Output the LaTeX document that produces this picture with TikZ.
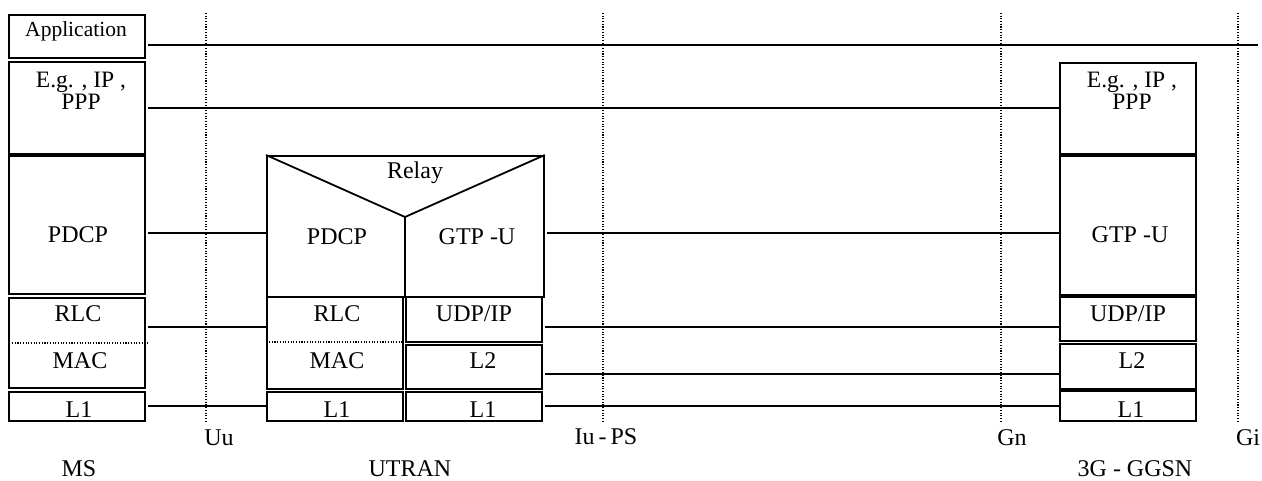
\documentclass[tikz,border=0pt]{standalone}
\usepackage{fontspec}
\setmainfont{Liberation Serif}
\usepackage{tikz}
\usetikzlibrary{calc}
\tikzstyle{layer}  = [rectangle, draw=black, line width=1.8pt, inner sep=0pt, anchor=north west, minimum width=136pt]
\tikzstyle{txt}    = [inner sep=0pt, anchor=base, font=\fontsize{24}{17}\selectfont]
\tikzstyle{txtsm}  = [inner sep=0pt, anchor=base, font=\fontsize{21.5}{17}\selectfont]
\tikzstyle{txttop} = [inner sep=0pt, anchor=north, align=center, font=\fontsize{23.5}{17}\selectfont]
\tikzstyle{link}   = [line width=1.4pt, shorten <=2pt]
\tikzstyle{iface}  = [line width=1.1pt, dash pattern=on 1.1pt off 1.6pt]

\begin{document}
\begin{tikzpicture}[x=1pt, y=-1pt]
      \useasboundingbox (0,0) rectangle (1262,481);

      % MS stack
      \node (appMS)  [layer, minimum height=43pt]  at (8,14)  {};
      \node (ipMS)   [layer, minimum height=92pt]  at (8,61)  {};
      \node (pdcpMS) [layer, minimum height=138pt] at (8,155) {};
      \node (rlcMS)  [layer, minimum height=90pt]  at (8,297) {};
      \node (l1MS)   [layer, minimum height=29pt]  at (8,391) {};

      \node (tAppMS)  [txtsm]  at (76,37)  {Application};
      \node (tIpMS)   [txttop] at (81,72)  {E.g. , IP ,\\PPP};
      \node (tPdcpMS) [txt]    at (78,243) {PDCP};
      \node (tRlcMS)  [txt]    at (78,322) {RLC};
      \node (tMacMS)  [txt]    at (80,368) {MAC};
      \node (tL1MS)   [txt]    at (79,417) {L1};
      \draw [iface] ($(rlcMS.west |- 0,343)+(4,0)$) -- ($(rlcMS.east |- 0,343)+(3,0)$);

      % UTRAN stack
      \node (relayU) [layer, minimum width=277pt, minimum height=141pt] at (266,155) {};
      \coordinate (vtip) at (405,217);
      \draw [line width=1.8pt] (relayU.north west) -- (vtip) -- (relayU.north east);
      \draw [line width=1.8pt] (vtip) -- (vtip |- relayU.south);
      \node (rlcU)  [layer, minimum height=92pt] at (266,296) {};
      \node (udpU)  [layer, minimum height=45pt] at (405,296) {};
      \node (l2U)   [layer, minimum height=44pt] at (405,344) {};
      \node (l1Ua)  [layer, minimum height=29pt] at (266,391) {};
      \node (l1Ub)  [layer, minimum height=29pt] at (405,391) {};

      \node (tRelay)  [txt] at (415,179) {Relay};
      \node (tPdcpU)  [txt] at (337,245) {PDCP};
      \node (tGtpU)   [txt] at (477,245) {GTP -U};
      \node (tRlcU)   [txt] at (337,322) {RLC};
      \node (tMacU)   [txt] at (337,368) {MAC};
      \node (tUdpU)   [txt] at (474,322) {UDP/IP};
      \node (tL2U)    [txt] at (483,368) {L2};
      \node (tL1Ua)   [txt] at (337,417) {L1};
      \node (tL1Ub)   [txt] at (483,417) {L1};
      \draw [iface] ($(rlcU.west |- 0,342)+(3,0)$) -- (rlcU.east |- 0,342);

      % 3G-GGSN stack
      \node (ipG)   [layer, minimum height=91pt]  at (1059,62)  {};
      \node (gtpG)  [layer, minimum height=139pt] at (1059,155) {};
      \node (udpG)  [layer, minimum height=44pt]  at (1059,296) {};
      \node (l2G)   [layer, minimum height=45pt]  at (1059,343) {};
      \node (l1G)   [layer, minimum height=30pt]  at (1059,390) {};

      \node (tIpG)  [txttop] at (1132,72)  {E.g. , IP ,\\PPP};
      \node (tGtpG) [txt]    at (1130,243) {GTP -U};
      \node (tUdpG) [txt]    at (1128,322) {UDP/IP};
      \node (tL2G)  [txt]    at (1132,368) {L2};
      \node (tL1G)  [txt]    at (1131,417) {L1};

      % reference points
      \draw [iface] (206,13) -- (206,421);
      \draw [iface] (603,13) -- (603,421);
      \draw [iface] (1001,13) -- (1001,421);
      \draw [iface] (1238,13) -- (1238,421);
      \node (uu)   [txt] at (219,445)  {Uu};
      \node (iups) [txt] at (606,444)  {Iu\,-\,PS};
      \node (gn)   [txt] at (1012,445) {Gn};
      \node (gi)   [txt] at (1248,445) {Gi};

      \node (ms)    [txt] at (79,476)   {MS};
      \node (utran) [txt] at (410,476)  {UTRAN};
      \node (ggsn)  [txt] at (1135,476) {3G - GGSN};

      % peer links
      \coordinate (appEnd) at (1258,45);
      \draw [link] (appMS.east |- appEnd) -- (appEnd);
      \draw [link] (ipMS.east |- 0,108)   -- (ipG.west |- 0,108);
      \draw [link] (pdcpMS.east |- 0,233) -- (relayU.west |- 0,233);
      \draw [link] (relayU.east |- 0,233) -- (gtpG.west |- 0,233);
      \draw [link] (rlcMS.east |- 0,327)  -- (rlcU.west |- 0,327);
      \draw [link] (udpU.east |- 0,327)   -- (udpG.west |- 0,327);
      \draw [link] (l2U.east |- 0,374)    -- (l2G.west |- 0,374);
      \draw [link] (l1MS.east |- 0,406)   -- (l1Ua.west |- 0,406);
      \draw [link] (l1Ub.east |- 0,406)   -- (l1G.west |- 0,406);

    \end{tikzpicture}
\end{document}
